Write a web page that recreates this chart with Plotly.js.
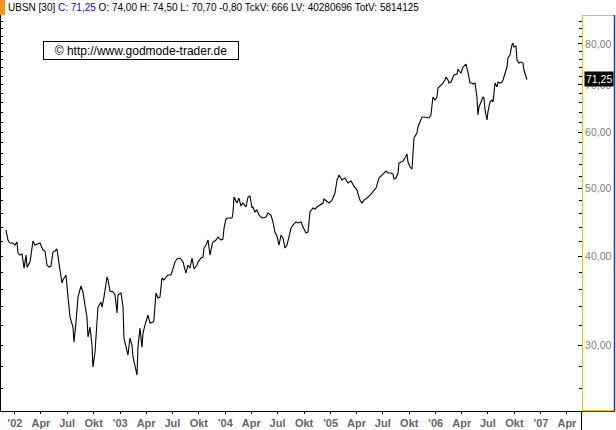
<!DOCTYPE html>
<html>
<head>
<meta charset="utf-8">
<script src="https://cdn.plot.ly/plotly-3.0.1.min.js"></script>
<style>
html,body{margin:0;padding:0;background:#fff;}
#chart{width:616px;height:430px;}
</style>
</head>
<body>
<div id="chart"></div>
<script>
// ---- data (weekly closes; x as decimal years) ----
const dates = [
2001.914,2001.933,2001.952,2001.981,2002.000,2002.019,2002.029,2002.048,2002.067,2002.086,
2002.105,2002.114,2002.143,2002.171,2002.190,2002.209,2002.238,2002.266,2002.285,2002.304,
2002.323,2002.342,2002.361,2002.380,2002.399,2002.418,2002.447,2002.456,2002.485,2002.504,
2002.523,2002.551,2002.561,2002.580,2002.599,2002.627,2002.646,2002.665,2002.684,2002.694,
2002.713,2002.732,2002.741,2002.760,2002.779,2002.789,2002.817,2002.827,2002.846,2002.875,
2002.884,2002.903,2002.932,2002.951,2002.970,2002.979,2003.008,2003.027,2003.036,2003.055,
2003.074,2003.093,2003.112,2003.122,2003.141,2003.160,2003.169,2003.188,2003.207,2003.217,
2003.236,2003.255,2003.264,2003.283,2003.312,2003.321,2003.340,2003.359,2003.378,2003.397,
2003.416,2003.435,2003.454,2003.483,2003.502,2003.521,2003.540,2003.568,2003.597,2003.625,
2003.644,2003.663,2003.683,2003.702,2003.730,2003.740,2003.768,2003.787,2003.797,2003.816,
2003.835,2003.854,2003.873,2003.882,2003.911,2003.930,2003.958,2003.977,2003.987,2004.006,
2004.025,2004.063,2004.072,2004.082,2004.110,2004.129,2004.148,2004.167,2004.196,2004.215,
2004.234,2004.253,2004.262,2004.281,2004.300,2004.319,2004.338,2004.357,2004.386,2004.405,
2004.433,2004.452,2004.471,2004.490,2004.510,2004.529,2004.548,2004.567,2004.586,2004.605,
2004.624,2004.643,2004.671,2004.690,2004.719,2004.738,2004.766,2004.785,2004.804,2004.833,
2004.852,2004.871,2004.899,2004.928,2004.937,2004.966,2004.985,2005.013,2005.023,2005.042,
2005.061,2005.080,2005.108,2005.137,2005.165,2005.194,2005.222,2005.251,2005.279,2005.298,
2005.318,2005.346,2005.375,2005.403,2005.432,2005.460,2005.489,2005.508,2005.527,2005.546,
2005.574,2005.593,2005.603,2005.622,2005.641,2005.650,2005.669,2005.688,2005.707,2005.726,
2005.736,2005.755,2005.774,2005.783,2005.793,2005.821,2005.831,2005.850,2005.869,2005.888,
2005.916,2005.935,2005.954,2005.964,2005.973,2005.992,2006.011,2006.021,2006.040,2006.068,
2006.087,2006.097,2006.116,2006.125,2006.144,2006.163,2006.173,2006.202,2006.211,2006.221,
2006.240,2006.259,2006.287,2006.306,2006.325,2006.344,2006.354,2006.373,2006.392,2006.401,
2006.411,2006.430,2006.449,2006.458,2006.468,2006.487,2006.496,2006.515,2006.534,2006.544,
2006.563,2006.582,2006.591,2006.610,2006.629,2006.639,2006.658,2006.677,2006.686,2006.705,
2006.724,2006.734,2006.743,2006.762,2006.772,2006.791,2006.810,2006.829,2006.838,2006.867
];
const prices = [
43.64,42.23,41.82,41.82,41.55,41.96,40.48,40.22,40.35,38.55,
40.22,38.67,39.31,42.10,41.55,41.69,41.82,40.88,40.75,38.93,
38.67,38.80,40.62,40.75,41.02,39.18,36.72,37.08,37.68,35.07,
32.87,31.81,30.29,32.33,35.07,36.36,35.66,34.17,32.87,30.79,
31.81,30.00,27.93,29.23,32.55,33.95,34.51,33.95,35.07,37.44,
37.08,35.77,35.66,35.31,33.30,35.31,35.54,33.95,30.69,29.71,
29.04,30.69,30.00,28.85,27.93,27.21,29.80,31.70,29.80,31.19,
32.02,32.76,33.08,32.23,32.33,32.55,35.54,34.96,35.07,37.32,
37.08,37.44,37.68,37.68,38.67,39.31,39.70,39.83,39.31,37.93,
38.93,38.55,39.83,38.43,38.93,39.31,39.83,39.96,41.15,41.55,
42.23,40.22,41.55,41.96,42.23,42.65,42.23,42.37,43.92,45.23,
45.38,45.38,46.12,48.58,47.64,48.42,47.18,47.64,47.03,48.58,
48.74,46.88,47.03,46.27,46.57,45.82,45.52,45.38,45.52,46.12,
45.82,44.79,43.35,42.79,41.55,42.93,42.51,41.15,41.55,42.93,
43.92,44.35,44.79,44.64,44.79,44.06,43.21,43.35,46.27,46.88,
46.72,47.03,47.33,47.64,48.26,47.80,47.64,48.10,48.42,49.22,
51.35,52.19,51.35,51.69,50.85,51.18,50.35,49.70,48.10,47.64,
48.10,48.42,48.90,49.38,50.02,51.69,52.19,52.53,52.87,52.53,
52.53,52.36,51.52,51.69,52.53,54.27,54.45,54.63,55.17,55.89,
54.45,53.57,53.22,55.71,58.88,59.85,61.03,62.03,63.05,63.05,
62.85,62.85,63.46,65.14,67.29,66.64,67.29,69.29,69.74,70.43,
71.12,71.81,71.12,70.43,70.66,71.81,72.29,72.53,73.72,73.24,
72.76,74.20,74.92,73.00,70.43,70.43,70.20,70.43,67.07,63.46,
65.14,66.20,67.29,67.07,64.50,62.44,64.08,66.20,66.64,66.20,
70.43,69.52,70.66,70.43,70.66,71.12,72.76,74.20,76.40,77.16,
79.71,80.23,79.19,79.45,75.92,75.17,75.42,75.17,73.48,71.25
];
// tick labels
const tickYears = [2002,2003,2004,2005,2006,2007];
const yearLabels = ["'02","'03","'04","'05","'06","'07"];
const monthLabels = ["Apr","Jul","Okt"];
const monthStartDay = [90,181,273];
const priceTicks = [30,40,50,60,70,80];
// header values
const symbol = "UBSN [30]";
const closeVal = 71.25, openVal = 74.00, highVal = 74.50, lowVal = 70.70, changeVal = -0.80;
const tckV = 666, lastV = 40280696, totV = 5814125;
const watermark = "\u00A9 http://www.godmode-trader.de";

// ---- helpers ----
const de = v => v.toFixed(2).replace('.', ',');
const xTickVals = [], xTickText = [];
tickYears.forEach((y, i) => {
  xTickVals.push(y); xTickText.push(yearLabels[i]);
  monthLabels.forEach((m, j) => { xTickVals.push(y + monthStartDay[j] / 365); xTickText.push(m); });
});
const minorVals = [];
for (let v = 22; v <= 90; v += 2) minorVals.push(v);

// pixel -> paper helpers for decorations (plot area: x 1..582, y 15..411)
const PL = 1, PR = 582, PT = 15, PB = 411;
const xp = px => (px - PL) / (PR - PL);
const yp = py => (PB - py) / (PB - PT);

const yRange = [Math.log10(24.2), Math.log10(87.9)];
const xRange = [2001.867, 2007.390];

const traces = [
  { x: dates, y: prices, type: 'scatter', mode: 'lines',
    line: { color: '#000000', width: 1.1 }, hoverinfo: 'skip', showlegend: false },
  { x: dates, y: prices, type: 'scatter', mode: 'lines', yaxis: 'y2',
    line: { color: 'rgba(0,0,0,0)', width: 0 }, hoverinfo: 'skip', showlegend: false }
];

const header = symbol + ' <span style="color:#0000ff">C: ' + de(closeVal) + '</span>' +
  ' O: ' + de(openVal) + ' H: ' + de(highVal) + ' L: ' + de(lowVal) + ' ' + de(changeVal) +
  ' TckV: ' + tckV + ' LV: ' + lastV + ' TotV: ' + totV;

const YEL = '#f2c200', BLU = '#1a3aa8';

const layout = {
  width: 616, height: 430,
  margin: { l: PL, r: 616 - PR, t: PT, b: 430 - PB, pad: 0 },
  paper_bgcolor: '#ffffff', plot_bgcolor: '#ffffff',
  showlegend: false,
  font: { family: 'Arial, "Liberation Sans", sans-serif', color: '#000' },
  xaxis: {
    type: 'linear', range: xRange, fixedrange: true,
    tickmode: 'array', tickvals: xTickVals, ticktext: xTickText,
    showgrid: false, zeroline: false,
    showline: true, linecolor: '#000', linewidth: 1,
    ticks: 'outside', ticklen: 2, tickcolor: '#000', tickwidth: 1,
    tickfont: { family: 'Arial, "Liberation Sans", sans-serif', size: 11, color: '#666666', weight: 'bold' }
  },
  yaxis: {
    type: 'log', range: yRange, side: 'right', fixedrange: true,
    tickmode: 'array', tickvals: priceTicks, ticktext: priceTicks.map(de),
    showgrid: false, zeroline: false,
    showline: true, linecolor: YEL, linewidth: 1,
    ticks: 'inside', ticklen: 4, tickcolor: '#000', tickwidth: 1,
    tickfont: { family: 'Arial, "Liberation Sans", sans-serif', size: 10.5, color: '#808080' },
    minor: { tickmode: 'array', tickvals: minorVals, ticks: 'inside', ticklen: 3, tickcolor: '#000', tickwidth: 1, showgrid: false }
  },
  yaxis2: {
    type: 'log', range: yRange, side: 'left', overlaying: 'y', fixedrange: true,
    tickmode: 'array', tickvals: priceTicks, showticklabels: false,
    showgrid: false, zeroline: false,
    showline: true, linecolor: '#000', linewidth: 1,
    ticks: 'inside', ticklen: 2, tickcolor: '#000', tickwidth: 1,
    minor: { tickmode: 'array', tickvals: minorVals, ticks: 'inside', ticklen: 2, tickcolor: '#000', tickwidth: 1, showgrid: false }
  },
  shapes: [
    // header marker
    { type: 'rect', xref: 'paper', yref: 'paper', x0: xp(0), x1: xp(5), y0: yp(15), y1: yp(0),
      fillcolor: '#f7941d', line: { width: 0 } },
    // right panel frame
    { type: 'line', xref: 'paper', yref: 'paper', x0: 1, x1: xp(614), y0: yp(15.5), y1: yp(15.5), line: { color: YEL, width: 1 } },
    { type: 'line', xref: 'paper', yref: 'paper', x0: 1, x1: xp(614), y0: yp(410.5), y1: yp(410.5), line: { color: YEL, width: 1 } },
    { type: 'line', xref: 'paper', yref: 'paper', x0: xp(614.5), x1: xp(614.5), y0: yp(411.5), y1: yp(15), line: { color: BLU, width: 1.5 } },
    { type: 'line', xref: 'paper', yref: 'paper', x0: 1, x1: xp(615), y0: yp(411.5), y1: yp(411.5), line: { color: BLU, width: 1 } },
    // separator below axis
    { type: 'line', xref: 'paper', yref: 'paper', x0: xp(581.5), x1: xp(581.5), y0: 0, y1: yp(430), line: { color: '#000', width: 1 } }
  ],
  annotations: [
    { xref: 'paper', yref: 'paper', x: xp(6), y: yp(8), xanchor: 'left', yanchor: 'middle',
      text: header, showarrow: false, font: { size: 10, color: '#000' } },
    { xref: 'paper', yref: 'paper', x: xp(43), y: yp(41), xanchor: 'left', yanchor: 'top',
      text: watermark, showarrow: false, align: 'center', width: 192, height: 15,
      bgcolor: '#ffffff', bordercolor: '#000', borderwidth: 1, borderpad: 1,
      font: { size: 12, color: '#000' } },
    { xref: 'paper', yref: 'y', x: xp(584), y: Math.log10(closeVal), xanchor: 'left', yanchor: 'middle',
      text: de(closeVal), showarrow: false, bgcolor: '#000000', borderpad: 1,
      font: { size: 10.5, color: '#ffffff' } }
  ]
};

Plotly.newPlot('chart', traces, layout, { staticPlot: true, displayModeBar: false });
</script>
</body>
</html>
